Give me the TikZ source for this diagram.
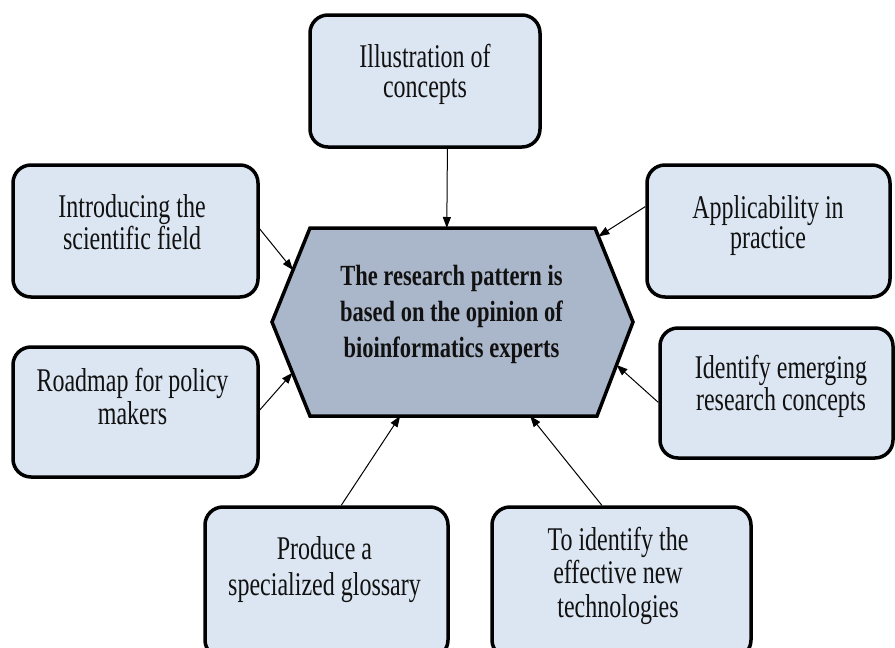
\documentclass[tikz,border=0pt]{standalone}
\usepackage{fontspec}
\setmainfont{Liberation Serif}
\usetikzlibrary{arrows.meta,calc}
\definecolor{boxfill}{HTML}{DCE6F2}
\definecolor{hexfill}{HTML}{AAB6CA}
\definecolor{inktext}{HTML}{111111}
\tikzset{
  box/.style={draw=black, line width=3.5pt, fill=boxfill, rounded corners=18pt, inner sep=0pt},
  lbl/.style={text=inktext, inner sep=0pt},
  conn/.style={draw=black, line width=1pt, -{Triangle[length=11pt,width=8pt]}}
}
% tall text: #1 = line pitch (px), #2 = lines
\newcommand{\talltext}[2]{\scalebox{1}[1.38]{\fontsize{24}{\dimexpr #1pt*100/138\relax}\selectfont\begin{tabular}{@{}c@{}}#2\end{tabular}}}
\begin{document}
\begin{tikzpicture}[x=1pt,y=-1pt]
\useasboundingbox (0,0) rectangle (895,648);
\clip (0,0) rectangle (895,648);
% hexagon
\coordinate (hTL) at (310,228);
\coordinate (hTR) at (595,228);
\coordinate (hR) at (633,322);
\coordinate (hBR) at (597,416);
\coordinate (hBL) at (310,416);
\coordinate (hL) at (272,322);
\draw[line width=3.5pt, fill=hexfill, line join=miter] (hTL) -- (hTR) -- (hR) -- (hBR) -- (hBL) -- (hL) -- cycle;
\node[lbl] (center) at (451.5,314) {\scalebox{1}[1.3]{\fontsize{22.5}{27.7}\selectfont\bfseries\begin{tabular}{@{}c@{}}The research pattern is\\based on the opinion of\\bioinformatics experts\end{tabular}}};
% boxes
\node[box, minimum width=230, minimum height=132] (illus) at (425,81) {};
\node[box, minimum width=245, minimum height=132] (intro) at (135.5,231) {};
\node[box, minimum width=243, minimum height=132] (appl) at (768.5,231) {};
\node[box, minimum width=245, minimum height=130] (road) at (135.5,412) {};
\node[box, minimum width=233, minimum height=130] (ident) at (776.5,393) {};
\node[box, minimum width=243, minimum height=151] (prod) at (326.5,582.5) {};
\node[box, minimum width=259, minimum height=151] (toid) at (621.5,582.5) {};
% labels
\node[lbl] (tillus) at (425,75) {\talltext{30}{Illustration of\\concepts}};
\node[lbl] (tintro) at (132,226) {\talltext{28}{Introducing the\\scientific field}};
\node[lbl] (tappl) at (768,226) {\talltext{28}{Applicability in\\practice}};
\node[lbl] (troad) at (132.5,401) {\talltext{32}{Roadmap for policy\\makers}};
\node[lbl] (tident) at (781,387.5) {\talltext{29}{Identify emerging\\research concepts}};
\node[lbl] (tprod) at (324.5,570) {\talltext{36}{Produce a\\specialized glossary}};
\node[lbl] (ttoid) at (618,577) {\talltext{33.5}{To identify the\\effective new\\technologies}};
% connectors
\draw[conn] ($(illus.south west)!0.596!(illus.south east)$) -- ($(hTL)!0.48!(hTR)$);
\draw[conn] ($(intro.north east)!0.485!(intro.south east)$) -- ($(hTL)!0.447!(hL)$);
\draw[conn] ($(appl.north west)!0.32!(appl.south west)$) -- ($(hTR)!0.09!(hR)$);
\draw[conn] ($(road.north east)!0.485!(road.south east)$) -- ($(hL)!0.54!(hBL)$);
\draw[conn] ($(ident.north west)!0.57!(ident.south west)$) -- ($(hR)!0.457!(hBR)$);
\draw[conn] ($(prod.north west)!0.56!(prod.north east)$) -- ($(hBL)!0.314!(hBR)$);
\draw[conn] ($(toid.north west)!0.425!(toid.north east)$) -- ($(hBL)!0.767!(hBR)$);
\end{tikzpicture}
\end{document}
